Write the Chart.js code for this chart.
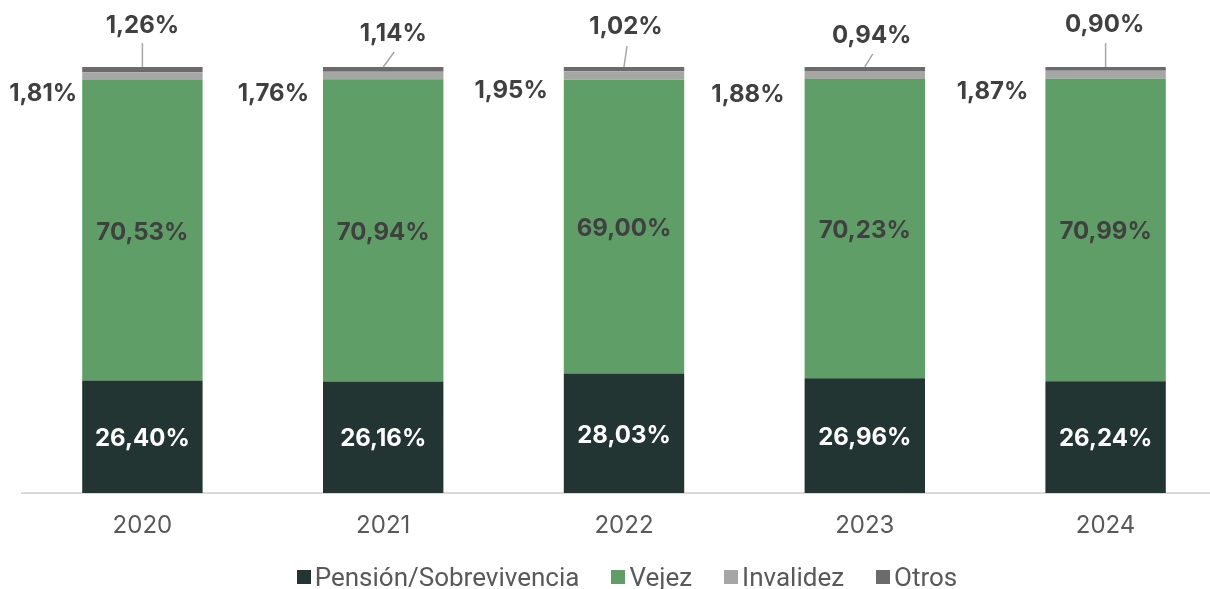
<!DOCTYPE html>
<html>
<head>
<meta charset="utf-8">
<script src="https://cdn.jsdelivr.net/npm/chart.js@4.4.1/dist/chart.umd.min.js"></script>
<style>
    body { margin: 0; background: #fff; overflow: hidden; }
    #wrap { position: relative; width: 1226px; height: 589px; }
    #legend {
        position: absolute; left: 0; top: 562px; width: 1254px;
        display: flex; justify-content: center; align-items: center;
        font-family: Roboto, sans-serif; font-size: 26px; color: #595959;
    }
    .item { display: flex; align-items: center; margin: 0 16px; }
    .box { width: 14px; height: 14px; margin-right: 4px; }
</style>
</head>
<body>
<div id="wrap">
    <canvas id="chart" width="1226" height="589"></canvas>
    <div id="legend"></div>
</div>
<script>
/* ============================================
   Data
   ============================================ */
const years = ['2020', '2021', '2022', '2023', '2024'];
const pension = [26.40, 26.16, 28.03, 26.96, 26.24];
const vejez = [70.53, 70.94, 69.00, 70.23, 70.99];
const invalidez = [1.81, 1.76, 1.95, 1.88, 1.87];
const otros = [1.26, 1.14, 1.02, 0.94, 0.90];

const seriesNames = ['Pensión/Sobrevivencia', 'Vejez', 'Invalidez', 'Otros'];
const seriesColors = ['#233532', '#609E68', '#A6A6A6', '#6B6B6B'];

// label nudges (pixels) for the small segments
const invalidezNudge = [[-5, 18], [-14, 18], [-16, 15], [-20, 20], [-17, 17]];
const otrosLabelNudge = [[0, -41], [10, -33], [2, -40], [7, -31], [-1, -42]];
const otrosLineEnd = [[0, -24], [11, -15], [3, -21], [8, -13], [0, -24]];

function fmtPct(v) {
    return v.toFixed(2).replace('.', ',') + '%';
}

const valueLabels = {
    id: 'valueLabels',
    afterDatasetsDraw(chart) {
        const ctx = chart.ctx;
        ctx.save();
        ctx.font = "bold 24px Inter, sans-serif";
        ctx.textBaseline = 'middle';
        chart.data.datasets.forEach((ds, di) => {
            const meta = chart.getDatasetMeta(di);
            meta.data.forEach((bar, i) => {
                const text = fmtPct(ds.data[i]);
                if (di < 2) {
                    ctx.fillStyle = di === 0 ? '#ffffff' : '#404040';
                    ctx.textAlign = 'center';
                    ctx.fillText(text, bar.x, (bar.y + bar.base) / 2 + 2);
                } else if (di === 2) {
                    const mid = (bar.y + bar.base) / 2;
                    ctx.fillStyle = '#404040';
                    ctx.textAlign = 'right';
                    ctx.fillText(text, bar.x - bar.width / 2 + invalidezNudge[i][0], mid + invalidezNudge[i][1]);
                } else {
                    ctx.strokeStyle = '#A6A6A6';
                    ctx.lineWidth = 1.5;
                    ctx.beginPath();
                    ctx.moveTo(bar.x, bar.y);
                    ctx.lineTo(bar.x + otrosLineEnd[i][0], bar.y + otrosLineEnd[i][1]);
                    ctx.stroke();
                    ctx.fillStyle = '#404040';
                    ctx.textAlign = 'center';
                    ctx.fillText(text, bar.x + otrosLabelNudge[i][0], bar.y + otrosLabelNudge[i][1]);
                }
            });
        });
        ctx.restore();
    }
};

const seriesData = [pension, vejez, invalidez, otros];

new Chart(document.getElementById('chart').getContext('2d'), {
    type: 'bar',
    data: {
        labels: years,
        datasets: seriesData.map((d, k) => ({
            label: seriesNames[k],
            data: d,
            backgroundColor: seriesColors[k],
            borderWidth: 0,
            categoryPercentage: 1,
            barPercentage: 0.5
        }))
    },
    options: {
        responsive: false,
        animation: false,
        layout: { padding: { top: 67, left: 22, right: 0, bottom: 0 } },
        plugins: {
            legend: { display: false },
            tooltip: { enabled: false }
        },
        scales: {
            x: {
                stacked: true,
                grid: { display: false, drawTicks: false },
                border: { display: true, color: '#D9D9D9', width: 2 },
                ticks: {
                    color: '#595959',
                    padding: 18,
                    font: { family: "Inter, sans-serif", size: 24 }
                },
                afterFit: scale => { scale.height = 96; }
            },
            y: {
                stacked: true,
                display: false,
                min: 0,
                max: 100
            }
        }
    },
    plugins: [valueLabels]
});

// legend
document.getElementById('legend').innerHTML = seriesNames.map((n, k) => `
    <div class="item"><span class="box" style="background:${seriesColors[k]}"></span>${n}</div>`).join('');
</script>
</body>
</html>
